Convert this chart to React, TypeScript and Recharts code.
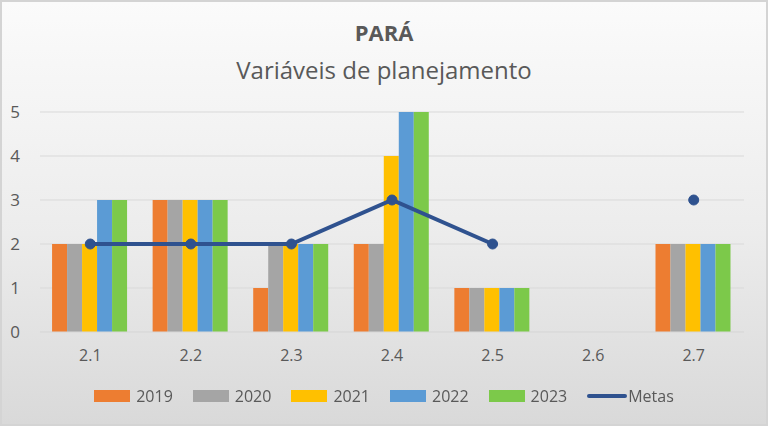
import { ComposedChart, Bar, Line, XAxis, YAxis, CartesianGrid, Legend } from 'recharts';

const categories = ['2.1', '2.2', '2.3', '2.4', '2.5', '2.6', '2.7'];
const v2019 = [2, 3, 1, 2, 1, null, 2];
const v2020 = [2, 3, 2, 2, 1, null, 2];
const v2021 = [2, 3, 2, 4, 1, null, 2];
const v2022 = [3, 3, 2, 5, 1, null, 2];
const v2023 = [3, 3, 2, 5, 1, null, 2];
const metas = [2, 2, 2, 3, 2, null, 3];
const yTicks = [0, 1, 2, 3, 4, 5];

const data = categories.map((c, i) => ({
  cat: c,
  y2019: v2019[i],
  y2020: v2020[i],
  y2021: v2021[i],
  y2022: v2022[i],
  y2023: v2023[i],
  metas: metas[i],
}));

const FONT = '"Open Sans", sans-serif';
const TEXT = '#595959';

const legendItems = [
  { name: '2019', color: '#ED7D31', kind: 'rect' },
  { name: '2020', color: '#A5A5A5', kind: 'rect' },
  { name: '2021', color: '#FFC000', kind: 'rect' },
  { name: '2022', color: '#5B9BD5', kind: 'rect' },
  { name: '2023', color: '#7CC94A', kind: 'rect' },
  { name: 'Metas', color: '#2F528F', kind: 'line' },
];

function LegendContent() {
  return (
    <div style={{ display: 'flex', justifyContent: 'center', gap: 20, fontFamily: FONT, fontSize: 16, color: TEXT }}>
      {legendItems.map((it) => (
        <div key={it.name} style={{ display: 'flex', alignItems: 'center', gap: it.kind === 'rect' ? 6 : 1 }}>
          {it.kind === 'rect' ? (
            <span style={{ display: 'inline-block', width: 36, height: 12, background: it.color }} />
          ) : (
            <span style={{ display: 'inline-block', width: 40, height: 4, borderRadius: 2, background: it.color }} />
          )}
          <span>{it.name}</span>
        </div>
      ))}
    </div>
  );
}

export default function App() {
  return (
    <div
      style={{
        position: 'fixed',
        left: 0,
        top: 0,
        width: 768,
        height: 426,
        boxSizing: 'border-box',
        border: '2px solid #d4d4d4',
        background: 'linear-gradient(to bottom, #fbfbfb 0%, #ececec 55%, #d9d9d9 100%)',
      }}
    >
      <div style={{ position: 'absolute', top: 15, left: 0, width: '100%', textAlign: 'center', fontFamily: FONT, fontWeight: 'bold', fontSize: 22, color: TEXT }}>
        PARÁ
      </div>
      <div style={{ position: 'absolute', top: 51, left: 0, width: '100%', textAlign: 'center', fontFamily: FONT, fontSize: 24, color: TEXT }}>
        Variáveis de planejamento
      </div>
      <div style={{ position: 'absolute', left: -2, top: -2 }}>
        <ComposedChart
          width={768}
          height={426}
          data={data}
          margin={{ top: 112, right: 24, left: 0, bottom: 0 }}
          barCategoryGap="12%"
          barGap={0}
        >
          <CartesianGrid vertical={false} stroke="#d9d9d9" strokeWidth={1} />
          <XAxis
            dataKey="cat"
            axisLine={{ stroke: '#d9d9d9' }}
            tickLine={false}
            tick={{ fill: TEXT, fontSize: 16, fontFamily: FONT }}
            tickMargin={12}
            height={72}
          />
          <YAxis
            domain={[0, 5]}
            ticks={yTicks}
            axisLine={false}
            tickLine={false}
            tick={{ fill: TEXT, fontSize: 17, fontFamily: FONT, textAnchor: 'middle' }}
            width={40}
            tickMargin={19}
          />
          <Bar dataKey="y2019" name="2019" fill="#ED7D31" isAnimationActive={false} />
          <Bar dataKey="y2020" name="2020" fill="#A5A5A5" isAnimationActive={false} />
          <Bar dataKey="y2021" name="2021" fill="#FFC000" isAnimationActive={false} />
          <Bar dataKey="y2022" name="2022" fill="#5B9BD5" isAnimationActive={false} />
          <Bar dataKey="y2023" name="2023" fill="#7CC94A" isAnimationActive={false} />
          <Line
            dataKey="metas"
            name="Metas"
            stroke="#2F528F"
            strokeWidth={4}
            dot={{ r: 5, fill: '#2F528F', stroke: '#2F528F', strokeWidth: 1 }}
            connectNulls={false}
            isAnimationActive={false}
          />
          <Legend content={<LegendContent />} wrapperStyle={{ top: 385, left: 0, width: 768 }} />
        </ComposedChart>
      </div>
    </div>
  );
}
